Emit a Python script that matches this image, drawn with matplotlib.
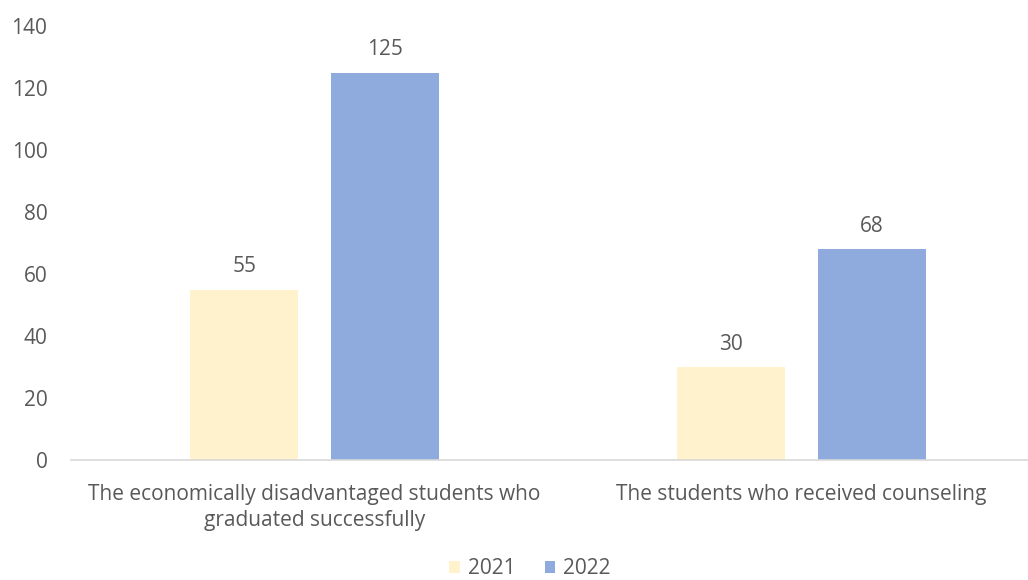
import numpy as np
import matplotlib.pyplot as plt

plt.rcParams['font.family'] = ['Open Sans', 'DejaVu Sans']

# data
categories = ["The economically disadvantaged students who\ngraduated successfully",
              "The students who received counseling"]
series_names = ["2021", "2022"]
values_2021 = [55, 30]
values_2022 = [125, 68]
yticks = [0, 20, 40, 60, 80, 100, 120, 140]

colors = ["#FFF2CC", "#8FAADC"]
text_color = "#595959"
fs = 15

fig = plt.figure(figsize=(10.28, 5.8), dpi=100)
ax = fig.add_axes([71 / 1028, 120 / 580, 1 - 71 / 1028, 434 / 580])

x = np.arange(len(categories))
width = 0.222
offset = 0.144

bars1 = ax.bar(x - offset, values_2021, width, color=colors[0], label=series_names[0])
bars2 = ax.bar(x + offset, values_2022, width, color=colors[1], label=series_names[1])

# value labels above bars
for bars in (bars1, bars2):
    for b in bars:
        ax.annotate(str(int(b.get_height())),
                    (b.get_x() + b.get_width() / 2, b.get_height()),
                    xytext=(0, 9), textcoords="offset points",
                    ha="center", va="bottom", fontsize=fs, color=text_color)

ax.set_xlim(-0.5, -0.5 + 957 / 487)
ax.set_ylim(0, 140)
ax.set_yticks(yticks)
ax.set_xticks(x)
ax.set_xticklabels(categories, fontsize=fs, color=text_color, linespacing=1.35)
ax.tick_params(axis="y", labelsize=fs, labelcolor=text_color, length=0, pad=17)
ax.tick_params(axis="x", length=0, pad=17)

for s in ["top", "right", "left"]:
    ax.spines[s].set_visible(False)
ax.spines["bottom"].set_color("#D9D9D9")
ax.spines["bottom"].set_linewidth(1.2)

leg = fig.legend(loc="center", bbox_to_anchor=(530 / 1028, 11 / 580), ncol=2,
                 frameon=False, fontsize=fs, handlelength=0.5, handleheight=0.5,
                 columnspacing=1.4, handletextpad=0.4)
for t in leg.get_texts():
    t.set_color(text_color)

fig.savefig("out.png", dpi=100)
